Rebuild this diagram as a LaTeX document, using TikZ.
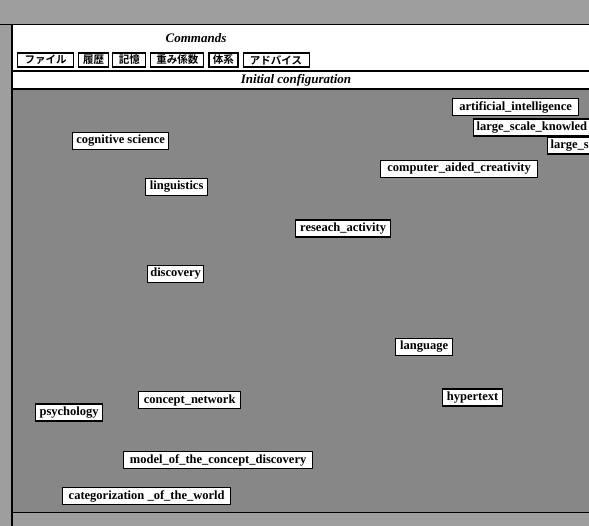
\documentclass[tikz,border=0pt]{standalone}
\usepackage{fontspec}
\setmainfont{Liberation Serif}
\newfontfamily\jpfont{Noto Sans CJK JP Bold}
\usetikzlibrary{positioning}

\colorlet{canvasgray}{black!47}
\colorlet{framegray}{black!38}

\tikzset{
	term/.style={draw, fill=white, line width=1.3pt, inner sep=1pt, minimum height=17pt,
		anchor=west, font=\bfseries\fontsize{12.5}{12.5}\selectfont},
	cutterm/.style={term, inner xsep=3pt, align=left},
	button/.style={draw, fill=white, line width=1.1pt, inner sep=1pt, minimum height=14pt,
		font=\jpfont\fontsize{10.5}{10.5}\selectfont},
	caption/.style={font=\bfseries\itshape\fontsize{13}{13}\selectfont},
}

\begin{document}
\begin{tikzpicture}[x=1pt,y=-1pt]
			\useasboundingbox (0,0) rectangle (589,526);
			\clip (0,0) rectangle (589,526);
			% window frame
			\fill[white] (0,0) rectangle (589,526);
			\fill[framegray] (0,0) rectangle (589,25);
			\fill[framegray] (0,0) rectangle (12,526);
			\fill[canvasgray] (12,89) rectangle (589,512);
			\fill[framegray] (12,512) rectangle (589,526);
			\draw[line width=1pt] (0,25) -- (589,25);
			\draw[line width=1.2pt] (12,25) -- (12,526);
			\draw[line width=1.2pt] (12,71) -- (589,71);
			\draw[line width=1.2pt] (12,89) -- (589,89);
			\draw[line width=1pt] (12,512) -- (589,512);
			% menu
			\node[caption] (cmd) at (196,38) {Commands};
			\node[button, minimum width=56pt, anchor=west] (file) at (17,60) {ファイル};
			\node[button, minimum width=30pt, right=4pt of file] (hist) {履歴};
			\node[button, minimum width=33pt, right=3pt of hist] (mem) {記憶};
			\node[button, minimum width=53pt, right=4pt of mem] (wgt) {重み係数};
			\node[button, minimum width=29pt, right=4pt of wgt] (sys) {体系};
			\node[button, minimum width=66pt, right=4pt of sys] (adv) {アドバイス};
			\node[caption] (init) at (296,80) {Initial configuration};
			% terms (the last two run past the window edge)
			\node[term, minimum width=126pt] (ai) at (452,107) {artificial\_intelligence};
			\node[cutterm, text width=140pt] (lsk) at (473,127.5) {large\_scale\_knowled};
			\node[cutterm, text width=60pt] (lss) at (547,145.5) {large\_s};
			\node[term, minimum width=96pt] (cogsci) at (72,141) {cognitive science};
			\node[term, minimum width=157pt] (cac) at (380,169) {computer\_aided\_creativity};
			\node[term, minimum width=62pt] (ling) at (145,187) {linguistics};
			\node[term, minimum width=95pt] (res) at (295,228.5) {reseach\_activity};
			\node[term, minimum width=56pt] (disc) at (147,274) {discovery};
			\node[term, minimum width=57pt] (lang) at (395,347) {language};
			\node[term, minimum width=60pt] (hyper) at (442,397.5) {hypertext};
			\node[term, minimum width=102pt] (cnet) at (138,400) {concept\_network};
			\node[term, minimum width=67pt] (psy) at (35,412.5) {psychology};
			\node[term, minimum width=189pt] (model) at (123,460) {model\_of\_the\_concept\_discovery};
			\node[term, minimum width=168pt] (cat) at (62,496) {categorization \_of\_the\_world};
		\end{tikzpicture}
\end{document}
